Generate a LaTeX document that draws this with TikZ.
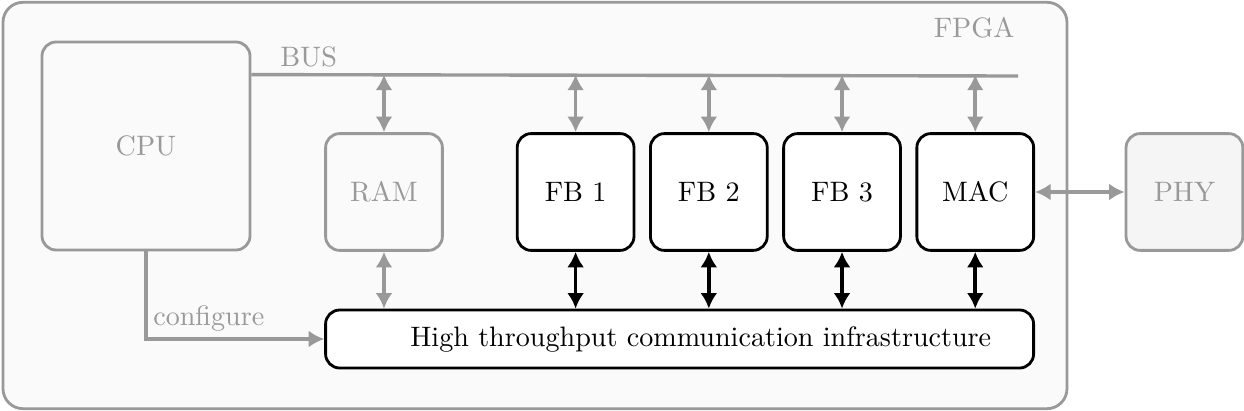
\documentclass[tikz,border=0pt]{standalone}
\usetikzlibrary{arrows.meta, positioning}
\tikzstyle{chip} = [rectangle, rounded corners=5pt, minimum width=1.46cm, minimum height=1.46cm, text centered, draw=black, fill=white, line width=1pt]
\tikzstyle{ghost} = [rectangle, rounded corners=5pt, minimum width=1.46cm, minimum height=1.46cm, text centered, draw=black!40, text=black!40, line width=1pt]
\tikzstyle{fabric} = [rectangle, rounded corners=5pt, minimum width=8.85cm, minimum height=0.725cm, draw=black, fill=white, line width=1pt]
\tikzstyle{arrow} = [line width=1.3pt, <->, >={Latex[length=5.5pt,width=6pt]}]
\tikzstyle{grayarrow} = [arrow, color=black!40]
\tikzstyle{grayline} = [line width=1.2pt, color=black!40]

\begin{document}
\begin{tikzpicture}
\useasboundingbox (0,0) rectangle (15.55,5.1375);
% the chip itself
\node (fpga) [rectangle, rounded corners=0.25cm, draw=black!40, fill=black!2, line width=1pt, minimum width=13.3cm, minimum height=5.08cm] at (6.6875,2.56875) {};
\node (fpgalabel) [anchor=north east, text=black!40] at ([xshift=-0.55cm, yshift=-0.08cm]fpga.north east) {FPGA};

\node (cpu) [ghost, minimum width=2.6cm, minimum height=2.6cm] at (1.825,3.3125) {CPU};
\node (ram) [ghost] at (4.8,2.7375) {RAM};

\node (fb1) [chip, right=0.9cm of ram] {FB 1};
\node (fb2) [chip, right=0.17cm of fb1] {FB 2};
\node (fb3) [chip, right=0.17cm of fb2] {FB 3};
\node (mac) [chip, right=0.17cm of fb3] {MAC};

\node (phy) [ghost, fill=black!4, right=1.12cm of mac] {PHY};

\node (htci) [fabric, anchor=north west] at ([yshift=-0.71cm]ram.south west) {\hspace*{0.53cm}High throughput communication infrastructure};

% bus
\coordinate (busstart) at ([yshift=-0.425cm]cpu.north east);
\coordinate (busend) at (12.725,4.1875);
\draw [grayline] (busstart) -- node[pos=0, anchor=south west, inner sep=2pt, xshift=0.27cm] {BUS} (busend);

\draw [grayarrow] (ram.north |- busstart) -- (ram.north);
\draw [grayarrow] (fb1.north |- busstart) -- (fb1.north);
\draw [grayarrow] (fb2.north |- busstart) -- (fb2.north);
\draw [grayarrow] (fb3.north |- busstart) -- (fb3.north);
\draw [grayarrow] (mac.north |- busstart) -- (mac.north);

\draw [grayarrow] (ram.south) -- (ram.south |- htci.north);
\draw [arrow] (fb1.south) -- (fb1.south |- htci.north);
\draw [arrow] (fb2.south) -- (fb2.south |- htci.north);
\draw [arrow] (fb3.south) -- (fb3.south |- htci.north);
\draw [arrow] (mac.south) -- (mac.south |- htci.north);

\draw [grayarrow] (mac.east) -- (phy.west);

\draw [grayline, -{Latex[length=5.5pt,width=6pt]}] (cpu.south) |- node[pos=0.5, anchor=south west, inner sep=2pt] {configure} (htci.west);
\end{tikzpicture}
\end{document}
